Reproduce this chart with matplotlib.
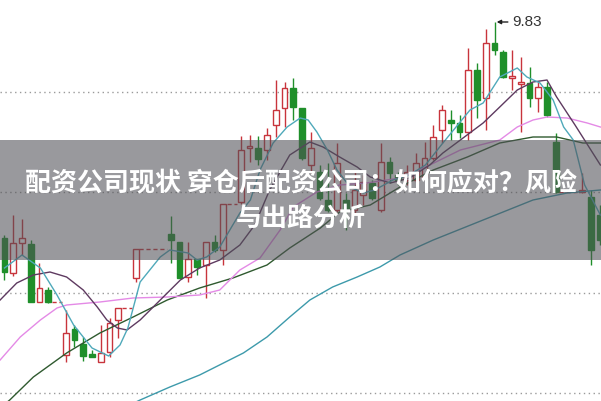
import numpy as np
import matplotlib
matplotlib.use("Agg")
import matplotlib.pyplot as plt
from matplotlib.patches import Rectangle

nan = np.nan

# daily candles (suspended days are nan)
opens = [8.75, 8.575, 8.725, 8.72, 8.43, 8.49, nan, 8.165, 8.295, 8.22,
         8.17, 8.13, 8.18, 8.34, nan, 8.55, nan, nan, nan, 8.77,
         8.73, 8.555, 8.645, 8.615, 8.73, 8.69, nan, 8.93, 9.20, 9.20,
         9.19, 9.315, 9.40, 9.50, 9.40, 9.115, 9.08, 8.94, 8.89, 8.94,
         8.89, 8.965, 9.025, 8.89, 9.13, 9.065, 9.04, 9.04, 9.05, 9.15,
         9.29, 9.34, 9.325, 9.28, 9.59, 9.45, 9.725, 9.68, 9.55, 9.52,
         9.525, 9.45, 9.505, 9.23, nan, nan, 8.98, 8.955, 8.865]
highs = [8.765, 8.865, 8.845, 8.74, 8.625, 8.505, nan, 8.39, 8.315, 8.255,
         8.19, 8.315, 8.35, 8.40, nan, 8.695, nan, nan, nan, 8.86,
         8.73, 8.73, 8.645, 8.73, 8.765, 8.92, nan, 9.26, 9.265, 9.26,
         9.30, 9.54, 9.53, 9.55, 9.40, 9.28, 9.115, 9.125, 9.225, 8.975,
         9.08, 9.065, 9.04, 9.225, 9.155, 9.08, 9.115, 9.175, 9.23, 9.315,
         9.415, 9.39, 9.365, 9.70, 9.625, 9.795, 9.83, 9.69, 9.69, 9.655,
         9.605, 9.53, 9.53, 9.275, nan, nan, 9.075, 8.99, 8.915]
lows = [8.54, 8.56, 8.665, 8.43, 8.43, 8.425, nan, 8.13, 8.205, 8.135,
        8.155, 8.13, 8.155, 8.25, nan, 8.53, nan, nan, nan, 8.625,
        8.55, 8.53, 8.565, 8.45, 8.68, 8.615, nan, 8.92, 9.13, 9.115,
        9.14, 9.255, 9.305, 9.34, 9.14, 9.075, 8.94, 8.88, 8.88, 8.79,
        8.875, 8.915, 8.94, 8.88, 9.025, 9.015, 9.015, 9.03, 9.04, 9.14,
        9.225, 9.24, 9.25, 9.24, 9.35, 9.29, 9.665, 9.55, 9.49, 9.28,
        9.405, 9.38, 9.355, 8.975, nan, nan, 8.975, 8.615, 8.715]
closes = [8.58, 8.725, 8.75, 8.43, 8.50, 8.43, nan, 8.275, 8.24, 8.16,
          8.155, 8.175, 8.325, 8.40, nan, 8.695, nan, nan, nan, 8.74,
          8.55, 8.645, 8.605, 8.73, 8.69, 8.92, nan, 9.19, 9.21, 9.145,
          9.265, 9.39, 9.50, 9.405, 9.15, 9.20, 8.95, 8.89, 9.125, 8.89,
          8.99, 9.03, 8.95, 9.13, 9.075, 9.04, 9.08, 9.125, 9.15, 9.255,
          9.39, 9.325, 9.28, 9.59, 9.44, 9.725, 9.69, 9.555, 9.56, 9.53,
          9.45, 9.505, 9.365, 8.98, nan, nan, 8.99, 8.69, 8.74]

# moving average lines (position in days, price)
ma5_x = [0, 2, 4.1, 6, 7.9, 10, 11.9, 13.2, 14.1, 15.5, 17.8, 18.9, 21, 22, 23.1,
         24.6, 26.9, 28.1, 29.2, 30.7, 32.3, 33.8, 34.7, 35.7, 36.9, 38, 39.5, 41,
         42.3, 44.4, 46.3, 48.1, 50.1, 53.2, 54.7, 56.6, 58.6, 59.7, 61.2, 62.7,
         63.9, 65, 66.3, 68.1]
ma5_y = [8.60, 8.665, 8.60, 8.465, 8.315, 8.20, 8.16, 8.215, 8.30, 8.53, 8.655,
         8.69, 8.675, 8.64, 8.655, 8.705, 8.875, 8.94, 9.09, 9.225, 9.305, 9.35,
         9.34, 9.28, 9.19, 9.09, 9.005, 8.975, 8.99, 9.04, 9.065, 9.115, 9.225,
         9.39, 9.425, 9.555, 9.60, 9.555, 9.525, 9.44, 9.305, 9.24, 9.015, 8.865]

ma10_x = [-0.5, 1.4, 3.3, 5.2, 7.1, 9, 10.6, 11.7, 12.9, 14, 15.5, 17.8, 20.1,
          22.3, 24.6, 26.9, 28.6, 30.3, 32.6, 34.9, 36.4, 38.3, 40.3, 41.8, 44.1,
          46.3, 48.6, 50.1, 52.1, 54.7, 56.6, 58.6, 60.4, 62, 63.1, 65.2, 68.1]
ma10_y = [8.44, 8.525, 8.565, 8.58, 8.555, 8.49, 8.405, 8.34, 8.30, 8.29, 8.34,
          8.44, 8.54, 8.60, 8.64, 8.715, 8.815, 8.99, 9.165, 9.23, 9.205, 9.155,
          9.105, 9.055, 9.025, 9.05, 9.115, 9.175, 9.24, 9.325, 9.405, 9.49, 9.53,
          9.54, 9.455, 9.315, 9.115]

ma20_x = [-0.5, 1.8, 4.1, 6, 7.1, 10.9, 14.7, 18.6, 22.3, 24.6, 26.9, 29.2, 31.5,
          33, 35.7, 38.3, 41.4, 45.2, 48.6, 52.1, 56.6, 58.6, 60.4, 62, 64.3,
          66.6, 68.1]
ma20_y = [8.14, 8.255, 8.34, 8.40, 8.415, 8.43, 8.45, 8.455, 8.465, 8.49, 8.59,
          8.65, 8.79, 8.905, 8.98, 9.015, 9.025, 9.05, 9.115, 9.19, 9.24, 9.305,
          9.34, 9.355, 9.35, 9.325, 9.305]

ma30_x = [-0.5, 0.6, 3.3, 7.1, 10.9, 14.7, 18.6, 22.3, 26.1, 30, 32.6, 36.1,
          38.3, 41.8, 45.2, 49, 52.9, 56.6, 60.4, 63.1, 66.1, 68.1]
ma30_y = [7.90, 7.94, 8.055, 8.175, 8.275, 8.355, 8.44, 8.50, 8.55, 8.615, 8.70,
          8.80, 8.88, 8.915, 9.005, 9.09, 9.155, 9.225, 9.255, 9.255, 9.225, 9.225]

ma60_x = [14.3, 15.5, 18.9, 22.3, 27.3, 30, 32.6, 34.9, 37.5, 40.3, 42.9, 45.2,
          49, 54.7, 60.4, 64.3, 68.1]
ma60_y = [7.915, 7.94, 8.005, 8.065, 8.175, 8.255, 8.355, 8.44, 8.505, 8.555,
          8.605, 8.665, 8.74, 8.84, 8.94, 8.975, 8.99]

grid_levels = [9.48, 8.98, 8.475, 7.975]
peak_label = "9.83"
title_1 = "配资公司现状 穿仓后配资公司：如何应对？风险"
title_2 = "与出路分析"

up_col = "#c8343c"
down_col = "#1f8f2a"

fig = plt.figure(figsize=(6.01, 4.01), dpi=100)
ax = fig.add_axes([0, 0, 1, 1])
ax.set_xlim(-0.514, 68.17)
ax.set_ylim(7.935, 9.94)
ax.axis("off")

for g in grid_levels:
    ax.axhline(g, color="#9a9a9a", lw=1, ls=(0, (1, 2.5)), zorder=0)

o = np.array(opens)
h = np.array(highs)
l = np.array(lows)
c = np.array(closes)
x = np.arange(len(o))
w = 0.68

for i in x:
    if np.isnan(o[i]):
        continue
    top = max(o[i], c[i])
    bot = min(o[i], c[i])
    col = up_col if c[i] >= o[i] else down_col
    ax.vlines(i, top, h[i], color=col, lw=1, zorder=2)
    ax.vlines(i, l[i], bot, color=col, lw=1, zorder=2)
    if c[i] >= o[i]:
        ax.add_patch(Rectangle((i - w / 2, bot), w, top - bot, facecolor="white",
                               edgecolor=col, lw=1, zorder=2))
    else:
        ax.add_patch(Rectangle((i - w / 2, bot), w, top - bot, facecolor=col,
                               edgecolor=col, lw=1, zorder=2))

# suspended days: dashed line at the last close
i = 0
while i < len(o):
    if np.isnan(o[i]):
        j = i
        while j < len(o) and np.isnan(o[j]):
            j += 1
        ax.hlines(c[i - 1], i - 1 + 0.4, j - 0.4, color=up_col, lw=1,
                  ls=(0, (3, 2)), zorder=2)
        i = j
    else:
        i += 1

ax.plot(ma60_x, ma60_y, color="#3d9aab", lw=1, zorder=3)
ax.plot(ma30_x, ma30_y, color="#2f5a2f", lw=1, zorder=3)
ax.plot(ma20_x, ma20_y, color="#e48ae6", lw=1, zorder=3)
ax.plot(ma10_x, ma10_y, color="#5e3a60", lw=1, zorder=3)
ax.plot(ma5_x, ma5_y, color="#4fa9ba", lw=1, zorder=3)

peak_i = int(np.nanargmax(h))
ax.annotate(peak_label, xy=(peak_i + 0.25, h[peak_i]), xytext=(peak_i + 2.0, h[peak_i]),
            va="center", ha="left", fontsize=11, color="#333333",
            family=["Liberation Sans", "DejaVu Sans"],
            arrowprops=dict(arrowstyle="-|>", color="#222222", lw=1,
                            mutation_scale=6, shrinkA=1, shrinkB=0), zorder=4)

# title banner
fig.add_artist(Rectangle((0, 0.3516), 1, 0.2993, transform=fig.transFigure,
                         facecolor="#505056", alpha=0.58, lw=0, zorder=5))
cjk = ["Noto Sans CJK SC", "DejaVu Sans"]
fig.text(0.5, 0.5436, title_1, ha="center", va="center", color="white",
         fontsize=18.7, fontweight="bold", family=cjk, zorder=6)
fig.text(0.5, 0.4564, title_2, ha="center", va="center", color="white",
         fontsize=18.7, fontweight="bold", family=cjk, zorder=6)

fig.savefig("out.png", dpi=100)
